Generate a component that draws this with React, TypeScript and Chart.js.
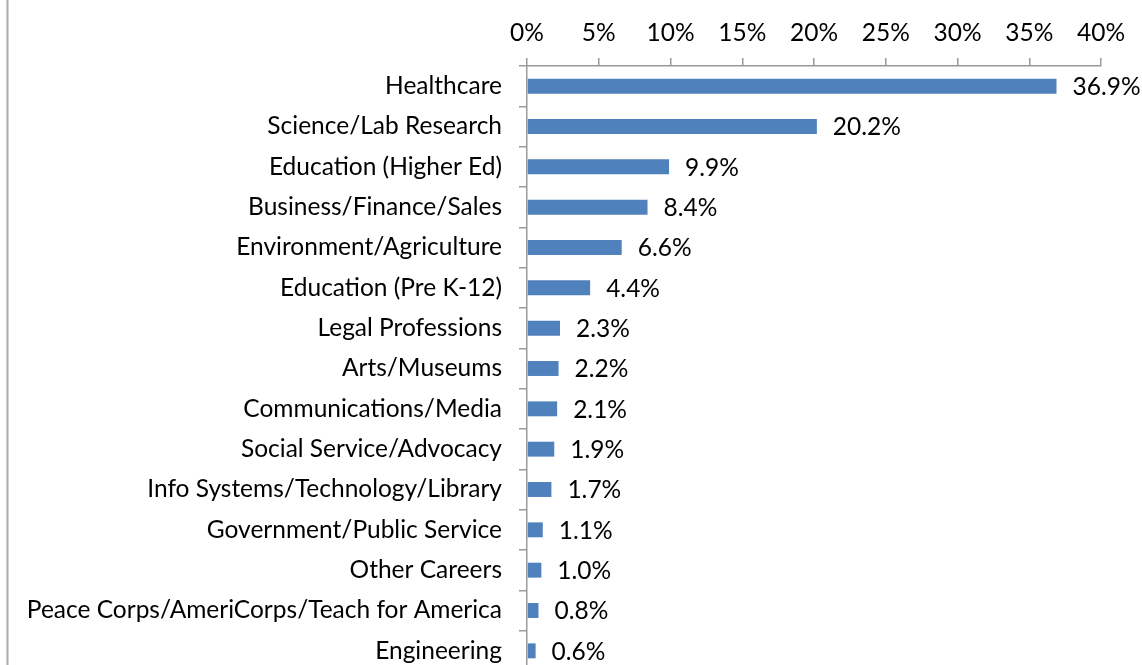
import React, { useEffect, useRef } from "react";
import { Chart, registerables } from "chart.js";

Chart.register(...registerables);

const categories: string[] = [
  "Healthcare",
  "Science/Lab Research",
  "Education (Higher Ed)",
  "Business/Finance/Sales",
  "Environment/Agriculture",
  "Education (Pre K-12)",
  "Legal Professions",
  "Arts/Museums",
  "Communications/Media",
  "Social Service/Advocacy",
  "Info Systems/Technology/Library",
  "Government/Public Service",
  "Other Careers",
  "Peace Corps/AmeriCorps/Teach for America",
  "Engineering",
];

const values: number[] = [36.9, 20.2, 9.9, 8.4, 6.6, 4.4, 2.3, 2.2, 2.1, 1.9, 1.7, 1.1, 1.0, 0.8, 0.6];

const xTickMin = 0;
const xTickMax = 40;
const xTickStep = 5;

const FONT = "Lato, 'Open Sans', sans-serif";
const FONT_SIZE = 24.5;
const AXIS_GRAY = "#9a9a9a";

const valueLabels = {
  id: "valueLabels",
  afterDatasetsDraw(chart: any) {
    const ctx = chart.ctx;
    const meta = chart.getDatasetMeta(0);
    ctx.save();
    ctx.font = `${FONT_SIZE}px ${FONT}`;
    ctx.fillStyle = "#000";
    ctx.textAlign = "left";
    ctx.textBaseline = "middle";
    meta.data.forEach((bar: any, i: number) => {
      const v = chart.data.datasets[0].data[i] as number;
      ctx.fillText(v.toFixed(1) + "%", bar.x + 16, bar.y + 1);
    });
    ctx.restore();
  },
};

const frameLine = {
  id: "frameLine",
  beforeDraw(chart: any) {
    const ctx = chart.ctx;
    ctx.save();
    ctx.strokeStyle = "#aaaaaa";
    ctx.lineWidth = 2;
    ctx.beginPath();
    ctx.moveTo(7.5, 0);
    ctx.lineTo(7.5, chart.height);
    ctx.stroke();
    ctx.restore();
  },
};

export default function App() {
  const ref = useRef<HTMLCanvasElement | null>(null);

  useEffect(() => {
    if (!ref.current) return;
    const chart = new Chart(ref.current, {
      type: "bar",
      data: {
        labels: categories,
        datasets: [
          {
            data: values,
            backgroundColor: "#4f81bd",
            borderWidth: 0,
            barPercentage: 0.37,
            categoryPercentage: 1,
          },
        ],
      },
      options: {
        indexAxis: "y",
        responsive: false,
        animation: false,
        layout: { padding: { left: 0, right: 41, top: 0, bottom: 0 } },
        plugins: {
          legend: { display: false },
          tooltip: { enabled: false },
        },
        scales: {
          x: {
            position: "top",
            min: xTickMin,
            max: xTickMax,
            ticks: {
              stepSize: xTickStep,
              color: "#000",
              font: { family: FONT, size: FONT_SIZE },
              padding: 10,
              callback: (v: any) => `${v}%`,
            },
            grid: {
              drawOnChartArea: false,
              drawTicks: true,
              tickLength: 8,
              color: AXIS_GRAY,
              lineWidth: 1.5,
            },
            border: { display: true, color: AXIS_GRAY, width: 1.5 },
            afterFit: (scale: any) => {
              scale.height = 66;
            },
          },
          y: {
            ticks: {
              color: "#000",
              font: { family: FONT, size: FONT_SIZE },
              padding: 17,
              autoSkip: false,
            },
            grid: {
              drawOnChartArea: false,
              drawTicks: true,
              tickLength: 8,
              color: AXIS_GRAY,
              lineWidth: 1.5,
            },
            border: { display: true, color: AXIS_GRAY, width: 1.5 },
            afterFit: (scale: any) => {
              scale.width = 527;
              scale.paddingTop = 0;
              scale.paddingBottom = 0;
            },
          },
        },
      },
      plugins: [valueLabels, frameLine],
    });
    return () => chart.destroy();
  }, []);

  return (
    <div
      style={{
        position: "fixed",
        left: 0,
        top: 0,
        width: 1142,
        height: 665,
        overflow: "hidden",
        background: "#fff",
      }}
    >
      <canvas ref={ref} width={1142} height={671} style={{ display: "block" }} />
    </div>
  );
}
